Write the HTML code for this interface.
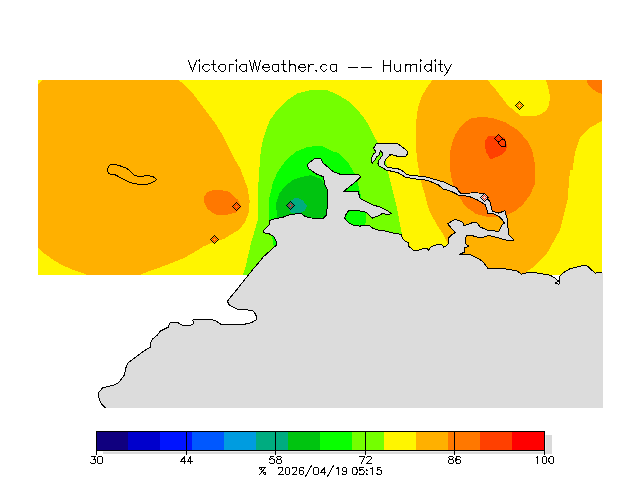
<!DOCTYPE html>
<html><head><meta charset="utf-8"><style>
html,body{margin:0;padding:0;background:#fff;width:640px;height:480px;overflow:hidden}
svg{display:block}
.h{fill:none;stroke:#000;stroke-width:1;stroke-linecap:square}
.t{font-family:"Liberation Sans",sans-serif;font-size:11px;fill:#000}
.title{font-family:"Liberation Sans",sans-serif;font-size:15.5px;fill:#000}
</style></head><body>
<svg width="640" height="480" viewBox="0 0 640 480" shape-rendering="crispEdges">
<defs>
<clipPath id="field"><rect x="38" y="80" width="564" height="195"/></clipPath>
<clipPath id="landclip"><rect x="0" y="0" width="603" height="408"/></clipPath>
<clipPath id="landclip2"><rect x="0" y="0" width="602" height="408"/></clipPath>
</defs>
<rect x="0" y="0" width="640" height="480" fill="#FFFFFF"/>
<g clip-path="url(#field)">
<rect x="38" y="80" width="564" height="195" fill="#FFF500"/>
<polygon points="42,80 178.75,80 185,85.5 192.5,93 200,103 207.5,113 215,123 221.25,133 227.5,145.5 233.75,158 240,168 243.75,178 247.5,188 249.7,201.25 248.75,212.5 245,222 239.4,229.4 230,235 224.4,238.75 215,241.6 203.75,246.25 196.25,251 185,257.5 173.75,262.2 158.75,267.8 147.5,271.6 140,275 87.5,275 82,272.8 72,269.5 62,265 52,259 44.5,253.5 38,247.5 38,84" fill="#FFB000"/>
<polygon points="432.5,80 426.7,88 421.7,96.3 418.3,106.3 416.7,116.3 415.8,128 415.8,141.3 416.7,156.3 418.75,170 422,185 425,195 428,207 431.25,215 437.8,226 443.3,234.7 447.8,243.4 460,275 522.5,275 532.5,267.5 547.5,252.5 560,230 567.5,200 570,170 572.5,170 575,152.5 580,137.5 590,127.5 602,121 602,80" fill="#FFB000"/>
<polygon points="487.5,80 496,90 507.5,105 520,115.5 532.8,116.5 540.2,114.7 545.7,111 548.9,105.5 549.8,99.1 549.4,92.7 547.5,85.3 546.1,80" fill="#FFF500"/>
<polygon points="586.5,80 588,84.5 591,88 596,91.5 602,94 602,80" fill="#FF7800"/>
<polygon points="450.8,175.3 449.7,162 450,152 452.5,142 455.8,133.7 461.7,125.3 470,118.7 480,117 486,117.2 494.7,118.6 505.6,122.5 518,130.3 527.5,141.25 532.2,150.6 534.5,161.6 535.3,172.5 534.5,185 530,195 522,205.5 515,211 505,216 490,217.5 476,214 465,206 458.75,196 453.3,185.3" fill="#FF7800"/>
<polygon points="484.75,141 488.5,136 495,136 505,137.7 506.4,142.7 506.8,147.7 505,151.8 501,155.2 495,157.7 490.6,159.3 488.5,156 486,151.8 484.75,145" fill="#FF4000"/>
<polygon points="260.3,155 261.9,144 265,133.1 269.7,120.6 277.5,109.7 286.9,100.3 297.8,93.3 310.3,90.2 327.5,90.2 335,93.6 341.25,96.75 347.5,100.5 353.75,106 360,113 365,119.25 368.75,125.5 372.5,133 375,138 379,144.4 385.8,160 387.5,170 390,180 393.3,193.3 396.7,206.7 399.2,220 401.7,233.3 405,275 243,275 245.7,266 249,252 251.7,240 255,230 257.7,220 258.5,181.7 260.2,156.7" fill="#74FF00"/>
<polygon points="268.5,220 269.3,198.3 272.7,183.3 277.7,171.7 286,160 296,151.7 306,147.5 316,145.8 322.8,146.4 333.75,151.9 337.5,152.5 348.75,163.75 354.4,173 358,184 360,192 362,200 365,208 366,218 365,228 330,240 290,250 273.75,247 271.2,231" fill="#08FF00"/>
<polygon points="277.7,220 276.8,213.3 276,203.3 279.3,193.3 286,185 294.3,179.2 302.7,176.7 311,175 320.6,178.75 326,186 328,200 328,216 300,222" fill="#00C410"/>
<polygon points="289.3,201.7 296,197.5 302.7,200 306.8,205.8 305,210.8 299.3,213.3 291.8,213.3 288.5,209.2" fill="#00AC80"/>
<polygon points="203.75,197.5 207.5,191.9 215,189.5 228,191.2 237.5,199.4 241.25,206.9 235.6,212.5 224.4,215.3 215,214.4 207.5,208.75 203.75,201.25" fill="#FF7800"/>
<polygon points="38,247.5 44.5,253.5 52,259 62,265 72,269.5 82,272.8 87.5,275 38,275" fill="#FFF500"/>
</g>
<g clip-path="url(#landclip)">
<polygon points="105.6,408 101.25,403.75 98.75,397.5 98.75,392.5 102.5,388 113.75,385 118.75,382.5 124.4,375 126,367.5 128,363 135,357.5 140,354 143.75,351 150,347.5 150,344 152.5,339 157.5,335 160,331.25 165,328.75 168.75,326.9 169.4,323.1 173.1,322.1 177.5,322.5 182.5,325.25 190.6,325.25 193.75,323.75 193.1,321.25 192.25,320.25 195.6,319.4 206.9,319.4 215,320.25 221.25,324.4 243.6,324.5 251.7,322.5 256.8,319.5 255.8,314.4 252.7,310.3 237.5,309.3 229.4,305.2 227.3,301.2 236.5,290 248.4,275 252.8,269.5 258.3,263 263.75,256.4 267.6,253 274.7,246.6 276.9,244.4 276,240.6 273.75,236.7 269,233.6 263.6,232.8 263.6,230.5 269,225 269.8,220.3 275.3,218.75 283,217.2 289.4,214.8 297,213.75 301.9,214 305,216.4 311.25,218 323.3,218.3 326.7,215 327.5,200 327.5,190 325,185 323.3,176.7 316.7,174.2 308.3,168.3 307.5,164.2 315,158.3 320.8,158.3 323.3,163.3 333.3,171.7 340,174.2 359.2,175 360.8,176.7 356.7,180.8 343.3,191.7 358.3,191.7 360,198.3 371.7,204.5 381.25,207.5 387.5,210.6 391.25,213.75 387.5,214.4 382.5,213.5 378.75,215.6 372.5,218.1 370,216.25 366.25,212.5 362.5,211.25 352.5,210.25 348.75,210.6 346.25,213.75 344.75,218.1 347.5,221.9 352.5,225 360,226.25 362.5,225 368.75,225 372.5,228.1 377.5,230 386.25,231.25 393.75,233.1 401.25,234.4 402.5,238.75 405,241.25 408.1,242.5 408.75,246.25 413.75,250.6 417.5,250.6 423.6,248.4 426.9,248.4 428.5,250 431.25,246.75 433.4,245.6 439,244.5 442.2,245 443.8,247.25 446.6,245.6 448.75,242.9 448.2,238.5 451,235.25 455.3,232.5 453.1,230.3 447.6,223.75 451,221.6 455.3,219.4 459.7,221 463,222.7 464,226 470.6,223.2 476,222 478.75,225 480,226.9 488.75,230.6 498.75,231.25 501.25,226.9 502.5,224.4 504.4,223.1 502.5,220 498.75,216.25 493.75,213.75 487.5,213.1 486.9,209.4 485,204.4 477.5,200 468.75,196.25 458.75,195.2 451,191.25 443,189 438.4,185 427.5,180.3 413.4,178.75 405.6,177.2 397.8,172.5 386.6,170.2 381.75,167.5 379,165.8 378,163.4 378.3,161.3 379.7,159.25 381,157.2 382.8,155.1 381.75,151.7 380.4,151 379,154.8 376.9,156.8 374.9,160 372.1,163.4 371.4,160.6 371.8,157.2 373.5,153.75 376.25,152 374.2,149.6 373.5,148.25 374.9,146.2 376.25,143.4 396.9,143.4 400.3,145.5 403.75,148.25 407.2,151 407.5,153.75 405.8,156.2 397.55,156.5 395.5,155.5 390.7,154.4 389.3,154.1 390,155.5 388,156.8 385.9,159.25 384.2,162.3 385.2,165.4 388,167.5 393.4,168.2 398.2,168.9 401,169.9 403.75,172 407.2,174.8 415,175.6 427.5,177.2 440,181 443.75,182 447.5,183.75 451.25,185.6 456.25,187.5 459.4,191.9 461.25,193.75 473.75,192.75 482.75,193.25 484.4,193 486,195 487.75,197 488,199.5 489.8,201 491.25,206.9 492.5,211.25 498.75,213.1 505,210.6 506.25,216.25 508.1,220 507.2,221.25 508.75,235 513.75,240 507.5,240.6 497.5,237.5 488.75,235.6 482.5,237.5 479,237.7 475,236.3 469.5,235.25 466.25,235.8 465.6,238.5 465,243.4 469,246.2 464.7,247.9 464.2,252.2 459.7,254.4 464,255 470,254.4 476.25,257.5 482.5,261.25 488.1,268.75 500,268.1 516.25,270.6 520,273.1 521.25,274.4 525,273.1 533.75,272.5 550,275.2 555,278 558.75,281.25 555.6,283 558.75,284.4 560,282 559.4,276.9 563.75,272.5 570,268.75 577.5,266.9 585,265 587.5,266.25 593.75,271.9 595,273.1 603,272.5 603,408" fill="#DCDCDC"/>
</g>
<polygon points="236.5,203 240,206.5 236.5,210 233,206.5" fill="#FF8000"/><rect x="232" y="206" width="1" height="1" fill="#000"/><rect x="233" y="205" width="1" height="1" fill="#000"/><rect x="233" y="207" width="1" height="1" fill="#000"/><rect x="234" y="204" width="1" height="1" fill="#000"/><rect x="234" y="206" width="1" height="1" fill="#FF2000"/><rect x="234" y="208" width="1" height="1" fill="#000"/><rect x="235" y="203" width="1" height="1" fill="#000"/><rect x="235" y="205" width="1" height="1" fill="#FF2000"/><rect x="235" y="207" width="1" height="1" fill="#FF2000"/><rect x="235" y="209" width="1" height="1" fill="#000"/><rect x="236" y="202" width="1" height="1" fill="#000"/><rect x="236" y="204" width="1" height="1" fill="#FF2000"/><rect x="236" y="208" width="1" height="1" fill="#FF2000"/><rect x="236" y="210" width="1" height="1" fill="#000"/><rect x="237" y="203" width="1" height="1" fill="#000"/><rect x="237" y="205" width="1" height="1" fill="#FF2000"/><rect x="237" y="207" width="1" height="1" fill="#FF2000"/><rect x="237" y="209" width="1" height="1" fill="#000"/><rect x="238" y="204" width="1" height="1" fill="#000"/><rect x="238" y="206" width="1" height="1" fill="#FF2000"/><rect x="238" y="208" width="1" height="1" fill="#000"/><rect x="239" y="205" width="1" height="1" fill="#000"/><rect x="239" y="207" width="1" height="1" fill="#000"/><rect x="240" y="206" width="1" height="1" fill="#000"/>
<polygon points="214.5,236 218,239.5 214.5,243 211,239.5" fill="#FFB000"/><rect x="210" y="239" width="1" height="1" fill="#000"/><rect x="211" y="238" width="1" height="1" fill="#000"/><rect x="211" y="240" width="1" height="1" fill="#000"/><rect x="212" y="237" width="1" height="1" fill="#000"/><rect x="212" y="239" width="1" height="1" fill="#FF2000"/><rect x="212" y="241" width="1" height="1" fill="#000"/><rect x="213" y="236" width="1" height="1" fill="#000"/><rect x="213" y="238" width="1" height="1" fill="#FF2000"/><rect x="213" y="240" width="1" height="1" fill="#FF2000"/><rect x="213" y="242" width="1" height="1" fill="#000"/><rect x="214" y="235" width="1" height="1" fill="#000"/><rect x="214" y="237" width="1" height="1" fill="#FF2000"/><rect x="214" y="241" width="1" height="1" fill="#FF2000"/><rect x="214" y="243" width="1" height="1" fill="#000"/><rect x="215" y="236" width="1" height="1" fill="#000"/><rect x="215" y="238" width="1" height="1" fill="#FF2000"/><rect x="215" y="240" width="1" height="1" fill="#FF2000"/><rect x="215" y="242" width="1" height="1" fill="#000"/><rect x="216" y="237" width="1" height="1" fill="#000"/><rect x="216" y="239" width="1" height="1" fill="#FF2000"/><rect x="216" y="241" width="1" height="1" fill="#000"/><rect x="217" y="238" width="1" height="1" fill="#000"/><rect x="217" y="240" width="1" height="1" fill="#000"/><rect x="218" y="239" width="1" height="1" fill="#000"/>
<polygon points="290.5,202 294,205.5 290.5,209 287,205.5" fill="#00A888"/><rect x="286" y="205" width="1" height="1" fill="#000"/><rect x="287" y="204" width="1" height="1" fill="#000"/><rect x="287" y="206" width="1" height="1" fill="#000"/><rect x="288" y="203" width="1" height="1" fill="#000"/><rect x="288" y="205" width="1" height="1" fill="#FF0000"/><rect x="288" y="207" width="1" height="1" fill="#000"/><rect x="289" y="202" width="1" height="1" fill="#000"/><rect x="289" y="204" width="1" height="1" fill="#FF0000"/><rect x="289" y="206" width="1" height="1" fill="#FF0000"/><rect x="289" y="208" width="1" height="1" fill="#000"/><rect x="290" y="201" width="1" height="1" fill="#000"/><rect x="290" y="203" width="1" height="1" fill="#FF0000"/><rect x="290" y="207" width="1" height="1" fill="#FF0000"/><rect x="290" y="209" width="1" height="1" fill="#000"/><rect x="291" y="202" width="1" height="1" fill="#000"/><rect x="291" y="204" width="1" height="1" fill="#FF0000"/><rect x="291" y="206" width="1" height="1" fill="#FF0000"/><rect x="291" y="208" width="1" height="1" fill="#000"/><rect x="292" y="203" width="1" height="1" fill="#000"/><rect x="292" y="205" width="1" height="1" fill="#FF0000"/><rect x="292" y="207" width="1" height="1" fill="#000"/><rect x="293" y="204" width="1" height="1" fill="#000"/><rect x="293" y="206" width="1" height="1" fill="#000"/><rect x="294" y="205" width="1" height="1" fill="#000"/>
<polygon points="519.5,102 523,105.5 519.5,109 516,105.5" fill="#FFFF00"/><rect x="515" y="105" width="1" height="1" fill="#000"/><rect x="516" y="104" width="1" height="1" fill="#000"/><rect x="516" y="106" width="1" height="1" fill="#000"/><rect x="517" y="103" width="1" height="1" fill="#000"/><rect x="517" y="105" width="1" height="1" fill="#FF2000"/><rect x="517" y="107" width="1" height="1" fill="#000"/><rect x="518" y="102" width="1" height="1" fill="#000"/><rect x="518" y="104" width="1" height="1" fill="#FF2000"/><rect x="518" y="106" width="1" height="1" fill="#FF2000"/><rect x="518" y="108" width="1" height="1" fill="#000"/><rect x="519" y="101" width="1" height="1" fill="#000"/><rect x="519" y="103" width="1" height="1" fill="#FF2000"/><rect x="519" y="107" width="1" height="1" fill="#FF2000"/><rect x="519" y="109" width="1" height="1" fill="#000"/><rect x="520" y="102" width="1" height="1" fill="#000"/><rect x="520" y="104" width="1" height="1" fill="#FF2000"/><rect x="520" y="106" width="1" height="1" fill="#FF2000"/><rect x="520" y="108" width="1" height="1" fill="#000"/><rect x="521" y="103" width="1" height="1" fill="#000"/><rect x="521" y="105" width="1" height="1" fill="#FF2000"/><rect x="521" y="107" width="1" height="1" fill="#000"/><rect x="522" y="104" width="1" height="1" fill="#000"/><rect x="522" y="106" width="1" height="1" fill="#000"/><rect x="523" y="105" width="1" height="1" fill="#000"/>
<polygon points="498.5,135 502,138.5 498.5,142 495,138.5" fill="#FF4000"/><rect x="494" y="138" width="1" height="1" fill="#000"/><rect x="495" y="137" width="1" height="1" fill="#000"/><rect x="495" y="139" width="1" height="1" fill="#000"/><rect x="496" y="136" width="1" height="1" fill="#000"/><rect x="496" y="138" width="1" height="1" fill="#FF2000"/><rect x="496" y="140" width="1" height="1" fill="#000"/><rect x="497" y="135" width="1" height="1" fill="#000"/><rect x="497" y="137" width="1" height="1" fill="#FF2000"/><rect x="497" y="139" width="1" height="1" fill="#FF2000"/><rect x="497" y="141" width="1" height="1" fill="#000"/><rect x="498" y="134" width="1" height="1" fill="#000"/><rect x="498" y="136" width="1" height="1" fill="#FF2000"/><rect x="498" y="140" width="1" height="1" fill="#FF2000"/><rect x="498" y="142" width="1" height="1" fill="#000"/><rect x="499" y="135" width="1" height="1" fill="#000"/><rect x="499" y="137" width="1" height="1" fill="#FF2000"/><rect x="499" y="139" width="1" height="1" fill="#FF2000"/><rect x="499" y="141" width="1" height="1" fill="#000"/><rect x="500" y="136" width="1" height="1" fill="#000"/><rect x="500" y="138" width="1" height="1" fill="#FF2000"/><rect x="500" y="140" width="1" height="1" fill="#000"/><rect x="501" y="137" width="1" height="1" fill="#000"/><rect x="501" y="139" width="1" height="1" fill="#000"/><rect x="502" y="138" width="1" height="1" fill="#000"/>
<polygon points="484.5,194 488,197.5 484.5,201 481,197.5" fill="#DCDCDC"/><rect x="480" y="197" width="1" height="1" fill="#000"/><rect x="481" y="196" width="1" height="1" fill="#000"/><rect x="481" y="198" width="1" height="1" fill="#000"/><rect x="482" y="195" width="1" height="1" fill="#000"/><rect x="482" y="197" width="1" height="1" fill="#FF2000"/><rect x="482" y="199" width="1" height="1" fill="#000"/><rect x="483" y="194" width="1" height="1" fill="#000"/><rect x="483" y="196" width="1" height="1" fill="#FF2000"/><rect x="483" y="198" width="1" height="1" fill="#FF2000"/><rect x="483" y="200" width="1" height="1" fill="#000"/><rect x="484" y="193" width="1" height="1" fill="#000"/><rect x="484" y="195" width="1" height="1" fill="#FF2000"/><rect x="484" y="199" width="1" height="1" fill="#FF2000"/><rect x="484" y="201" width="1" height="1" fill="#000"/><rect x="485" y="194" width="1" height="1" fill="#000"/><rect x="485" y="196" width="1" height="1" fill="#FF2000"/><rect x="485" y="198" width="1" height="1" fill="#FF2000"/><rect x="485" y="200" width="1" height="1" fill="#000"/><rect x="486" y="195" width="1" height="1" fill="#000"/><rect x="486" y="197" width="1" height="1" fill="#FF2000"/><rect x="486" y="199" width="1" height="1" fill="#000"/><rect x="487" y="196" width="1" height="1" fill="#000"/><rect x="487" y="198" width="1" height="1" fill="#000"/><rect x="488" y="197" width="1" height="1" fill="#000"/>
<g clip-path="url(#landclip2)">
<polygon points="105.6,408 101.25,403.75 98.75,397.5 98.75,392.5 102.5,388 113.75,385 118.75,382.5 124.4,375 126,367.5 128,363 135,357.5 140,354 143.75,351 150,347.5 150,344 152.5,339 157.5,335 160,331.25 165,328.75 168.75,326.9 169.4,323.1 173.1,322.1 177.5,322.5 182.5,325.25 190.6,325.25 193.75,323.75 193.1,321.25 192.25,320.25 195.6,319.4 206.9,319.4 215,320.25 221.25,324.4 243.6,324.5 251.7,322.5 256.8,319.5 255.8,314.4 252.7,310.3 237.5,309.3 229.4,305.2 227.3,301.2 236.5,290 248.4,275 252.8,269.5 258.3,263 263.75,256.4 267.6,253 274.7,246.6 276.9,244.4 276,240.6 273.75,236.7 269,233.6 263.6,232.8 263.6,230.5 269,225 269.8,220.3 275.3,218.75 283,217.2 289.4,214.8 297,213.75 301.9,214 305,216.4 311.25,218 323.3,218.3 326.7,215 327.5,200 327.5,190 325,185 323.3,176.7 316.7,174.2 308.3,168.3 307.5,164.2 315,158.3 320.8,158.3 323.3,163.3 333.3,171.7 340,174.2 359.2,175 360.8,176.7 356.7,180.8 343.3,191.7 358.3,191.7 360,198.3 371.7,204.5 381.25,207.5 387.5,210.6 391.25,213.75 387.5,214.4 382.5,213.5 378.75,215.6 372.5,218.1 370,216.25 366.25,212.5 362.5,211.25 352.5,210.25 348.75,210.6 346.25,213.75 344.75,218.1 347.5,221.9 352.5,225 360,226.25 362.5,225 368.75,225 372.5,228.1 377.5,230 386.25,231.25 393.75,233.1 401.25,234.4 402.5,238.75 405,241.25 408.1,242.5 408.75,246.25 413.75,250.6 417.5,250.6 423.6,248.4 426.9,248.4 428.5,250 431.25,246.75 433.4,245.6 439,244.5 442.2,245 443.8,247.25 446.6,245.6 448.75,242.9 448.2,238.5 451,235.25 455.3,232.5 453.1,230.3 447.6,223.75 451,221.6 455.3,219.4 459.7,221 463,222.7 464,226 470.6,223.2 476,222 478.75,225 480,226.9 488.75,230.6 498.75,231.25 501.25,226.9 502.5,224.4 504.4,223.1 502.5,220 498.75,216.25 493.75,213.75 487.5,213.1 486.9,209.4 485,204.4 477.5,200 468.75,196.25 458.75,195.2 451,191.25 443,189 438.4,185 427.5,180.3 413.4,178.75 405.6,177.2 397.8,172.5 386.6,170.2 381.75,167.5 379,165.8 378,163.4 378.3,161.3 379.7,159.25 381,157.2 382.8,155.1 381.75,151.7 380.4,151 379,154.8 376.9,156.8 374.9,160 372.1,163.4 371.4,160.6 371.8,157.2 373.5,153.75 376.25,152 374.2,149.6 373.5,148.25 374.9,146.2 376.25,143.4 396.9,143.4 400.3,145.5 403.75,148.25 407.2,151 407.5,153.75 405.8,156.2 397.55,156.5 395.5,155.5 390.7,154.4 389.3,154.1 390,155.5 388,156.8 385.9,159.25 384.2,162.3 385.2,165.4 388,167.5 393.4,168.2 398.2,168.9 401,169.9 403.75,172 407.2,174.8 415,175.6 427.5,177.2 440,181 443.75,182 447.5,183.75 451.25,185.6 456.25,187.5 459.4,191.9 461.25,193.75 473.75,192.75 482.75,193.25 484.4,193 486,195 487.75,197 488,199.5 489.8,201 491.25,206.9 492.5,211.25 498.75,213.1 505,210.6 506.25,216.25 508.1,220 507.2,221.25 508.75,235 513.75,240 507.5,240.6 497.5,237.5 488.75,235.6 482.5,237.5 479,237.7 475,236.3 469.5,235.25 466.25,235.8 465.6,238.5 465,243.4 469,246.2 464.7,247.9 464.2,252.2 459.7,254.4 464,255 470,254.4 476.25,257.5 482.5,261.25 488.1,268.75 500,268.1 516.25,270.6 520,273.1 521.25,274.4 525,273.1 533.75,272.5 550,275.2 555,278 558.75,281.25 555.6,283 558.75,284.4 560,282 559.4,276.9 563.75,272.5 570,268.75 577.5,266.9 585,265 587.5,266.25 593.75,271.9 595,273.1 603,272.5 603,408" fill="none" stroke="#000" stroke-width="1" stroke-linejoin="round"/>
</g>
<polygon points="110.2,164.6 114.2,164.3 118.3,165.2 126.4,168.2 130.5,171.25 134.5,175.3 137.6,176.3 148.75,175.8 152.8,176.3 156.4,179.4 154.8,181.4 150.8,183 144.7,185 139.6,184.5 131.5,183 125.4,180.4 115.2,174.8 109.1,173.8 107.6,171.25 108.1,167.2" fill="none" stroke="#000" stroke-width="1"/>
<polygon points="498,141.5 499,144 500.5,145.5 502,146.5 505.5,146.5 505.5,141.5 504,139.5 502.5,138.75 501.5,140.5" fill="none" stroke="#000" stroke-width="1"/>
<rect x="103" y="451" width="449" height="1" fill="#EAEAEA"/>
<rect x="545" y="435" width="1" height="17" fill="#EAEAEA"/>
<rect x="103" y="452" width="449" height="2" fill="#DADADA"/>
<rect x="546" y="435" width="6" height="19" fill="#DADADA"/>
<rect x="96" y="431" width="32" height="19" fill="#10007F"/>
<rect x="128" y="431" width="32" height="19" fill="#0000CC"/>
<rect x="160" y="431" width="32" height="19" fill="#0014FF"/>
<rect x="192" y="431" width="32" height="19" fill="#0058FF"/>
<rect x="224" y="431" width="32" height="19" fill="#009CE0"/>
<rect x="256" y="431" width="32" height="19" fill="#00AC80"/>
<rect x="288" y="431" width="32" height="19" fill="#00C410"/>
<rect x="320" y="431" width="32" height="19" fill="#08FF00"/>
<rect x="352" y="431" width="32" height="19" fill="#74FF00"/>
<rect x="384" y="431" width="32" height="19" fill="#FFF500"/>
<rect x="416" y="431" width="32" height="19" fill="#FFB000"/>
<rect x="448" y="431" width="32" height="19" fill="#FF7800"/>
<rect x="480" y="431" width="32" height="19" fill="#FF4000"/>
<rect x="512" y="431" width="32" height="19" fill="#FF0000"/>
<rect x="96.5" y="431.5" width="448" height="19" fill="none" stroke="#000" stroke-width="1"/>
<line x1="96.5" y1="431" x2="96.5" y2="455" stroke="#000" stroke-width="1"/>
<path d="M91.50,456.50 L95.50,456.50 L93.50,459.50 L94.50,459.50 L94.50,459.50 L95.50,459.50 L95.50,460.50 L95.50,461.50 L95.50,462.50 L94.50,463.50 L93.50,463.50 L92.50,463.50 L91.50,463.50 L90.50,462.50 L90.50,462.50 M99.50,456.50 L98.50,456.50 L97.50,457.50 L97.50,459.50 L97.50,460.50 L97.50,462.50 L98.50,463.50 L99.50,463.50 L100.50,463.50 L101.50,463.50 L102.50,462.50 L102.50,460.50 L102.50,459.50 L102.50,457.50 L101.50,456.50 L100.50,456.50 L99.50,456.50" class="h"/>
<line x1="186.5" y1="431" x2="186.5" y2="455" stroke="#000" stroke-width="1"/>
<path d="M184.50,456.50 L180.50,461.50 L185.50,461.50 M184.50,456.50 L184.50,463.50 M190.50,456.50 L187.50,461.50 L192.50,461.50 M190.50,456.50 L190.50,463.50" class="h"/>
<line x1="275.5" y1="431" x2="275.5" y2="455" stroke="#000" stroke-width="1"/>
<path d="M273.50,456.50 L270.50,456.50 L269.50,459.50 L270.50,459.50 L271.50,458.50 L272.50,458.50 L273.50,459.50 L274.50,459.50 L274.50,460.50 L274.50,461.50 L274.50,462.50 L273.50,463.50 L272.50,463.50 L271.50,463.50 L270.50,463.50 L269.50,462.50 L269.50,462.50 M278.50,456.50 L277.50,456.50 L276.50,457.50 L276.50,457.50 L277.50,458.50 L277.50,459.50 L279.50,459.50 L280.50,459.50 L281.50,460.50 L281.50,461.50 L281.50,462.50 L281.50,462.50 L280.50,463.50 L279.50,463.50 L278.50,463.50 L277.50,463.50 L276.50,462.50 L276.50,462.50 L276.50,461.50 L276.50,460.50 L277.50,459.50 L278.50,459.50 L279.50,459.50 L280.50,458.50 L281.50,457.50 L281.50,457.50 L280.50,456.50 L279.50,456.50 L278.50,456.50" class="h"/>
<line x1="365.5" y1="431" x2="365.5" y2="455" stroke="#000" stroke-width="1"/>
<path d="M364.50,456.50 L361.50,463.50 M359.50,456.50 L364.50,456.50 M366.50,457.50 L366.50,457.50 L367.50,456.50 L367.50,456.50 L368.50,456.50 L369.50,456.50 L370.50,456.50 L370.50,456.50 L371.50,457.50 L371.50,458.50 L370.50,459.50 L369.50,460.50 L366.50,463.50 L371.50,463.50" class="h"/>
<line x1="454.5" y1="431" x2="454.5" y2="455" stroke="#000" stroke-width="1"/>
<path d="M450.50,456.50 L449.50,456.50 L448.50,457.50 L448.50,457.50 L449.50,458.50 L450.50,459.50 L451.50,459.50 L452.50,459.50 L453.50,460.50 L453.50,461.50 L453.50,462.50 L453.50,462.50 L452.50,463.50 L451.50,463.50 L450.50,463.50 L449.50,463.50 L448.50,462.50 L448.50,462.50 L448.50,461.50 L448.50,460.50 L449.50,459.50 L450.50,459.50 L452.50,459.50 L452.50,458.50 L453.50,457.50 L453.50,457.50 L452.50,456.50 L451.50,456.50 L450.50,456.50 M460.50,457.50 L459.50,456.50 L458.50,456.50 L457.50,456.50 L456.50,456.50 L456.50,457.50 L455.50,459.50 L455.50,461.50 L456.50,462.50 L456.50,463.50 L457.50,463.50 L458.50,463.50 L459.50,463.50 L460.50,462.50 L460.50,461.50 L460.50,461.50 L460.50,460.50 L459.50,459.50 L458.50,459.50 L457.50,459.50 L456.50,459.50 L456.50,460.50 L455.50,461.50" class="h"/>
<line x1="544.5" y1="431" x2="544.5" y2="455" stroke="#000" stroke-width="1"/>
<path d="M536.50,457.50 L536.50,457.50 L537.50,456.50 L537.50,463.50 M544.50,456.50 L543.50,456.50 L542.50,457.50 L542.50,459.50 L542.50,460.50 L542.50,462.50 L543.50,463.50 L544.50,463.50 L544.50,463.50 L545.50,463.50 L546.50,462.50 L546.50,460.50 L546.50,459.50 L546.50,457.50 L545.50,456.50 L544.50,456.50 L544.50,456.50 M551.50,456.50 L550.50,456.50 L549.50,457.50 L548.50,459.50 L548.50,460.50 L549.50,462.50 L550.50,463.50 L551.50,463.50 L551.50,463.50 L552.50,463.50 L553.50,462.50 L553.50,460.50 L553.50,459.50 L553.50,457.50 L552.50,456.50 L551.50,456.50 L551.50,456.50" class="h"/>
<path d="M265.50,467.50 L259.50,474.50 M261.50,467.50 L261.50,467.50 L261.50,468.50 L261.50,469.50 L260.50,469.50 L260.50,469.50 L259.50,468.50 L259.50,468.50 L259.50,467.50 L260.50,467.50 L261.50,467.50 L261.50,467.50 L262.50,467.50 L264.50,467.50 L265.50,467.50 L265.50,467.50 M264.50,472.50 L263.50,472.50 L263.50,473.50 L263.50,473.50 L264.50,474.50 L264.50,474.50 L265.50,474.50 L265.50,473.50 L265.50,472.50 L265.50,472.50 L264.50,472.50" class="h"/>
<path d="M278.50,468.50 L278.50,468.50 L278.50,467.50 L279.50,467.50 L279.50,467.50 L281.50,467.50 L281.50,467.50 L282.50,467.50 L282.50,468.50 L282.50,469.50 L282.50,470.50 L281.50,471.50 L278.50,474.50 L283.50,474.50 M287.50,467.50 L286.50,467.50 L285.50,468.50 L285.50,470.50 L285.50,471.50 L285.50,473.50 L286.50,474.50 L287.50,474.50 L287.50,474.50 L288.50,474.50 L289.50,473.50 L289.50,471.50 L289.50,470.50 L289.50,468.50 L288.50,467.50 L287.50,467.50 L287.50,467.50 M292.50,468.50 L292.50,468.50 L292.50,467.50 L293.50,467.50 L293.50,467.50 L295.50,467.50 L295.50,467.50 L296.50,467.50 L296.50,468.50 L296.50,469.50 L296.50,470.50 L295.50,471.50 L292.50,474.50 L296.50,474.50 M303.50,468.50 L303.50,467.50 L302.50,467.50 L301.50,467.50 L300.50,467.50 L299.50,468.50 L299.50,470.50 L299.50,472.50 L299.50,473.50 L300.50,474.50 L301.50,474.50 L301.50,474.50 L302.50,474.50 L303.50,473.50 L303.50,472.50 L303.50,472.50 L303.50,471.50 L302.50,470.50 L301.50,470.50 L301.50,470.50 L300.50,470.50 L299.50,471.50 L299.50,472.50 M311.50,465.50 L305.50,476.50 M315.50,467.50 L314.50,467.50 L313.50,468.50 L313.50,470.50 L313.50,471.50 L313.50,473.50 L314.50,474.50 L315.50,474.50 L316.50,474.50 L317.50,474.50 L318.50,473.50 L318.50,471.50 L318.50,470.50 L318.50,468.50 L317.50,467.50 L316.50,467.50 L315.50,467.50 M324.50,467.50 L320.50,472.50 L325.50,472.50 M324.50,467.50 L324.50,474.50 M333.50,465.50 L327.50,476.50 M336.50,468.50 L336.50,468.50 L338.50,467.50 L338.50,474.50 M346.50,469.50 L346.50,470.50 L345.50,471.50 L344.50,471.50 L344.50,471.50 L343.50,471.50 L342.50,470.50 L342.50,469.50 L342.50,469.50 L342.50,468.50 L343.50,467.50 L344.50,467.50 L344.50,467.50 L345.50,467.50 L346.50,468.50 L346.50,469.50 L346.50,471.50 L346.50,473.50 L345.50,474.50 L344.50,474.50 L343.50,474.50 L342.50,474.50 L342.50,473.50" class="h"/>
<path d="M354.50,467.50 L353.50,467.50 L352.50,468.50 L352.50,470.50 L352.50,471.50 L352.50,473.50 L353.50,474.50 L354.50,474.50 L355.50,474.50 L356.50,474.50 L356.50,473.50 L357.50,471.50 L357.50,470.50 L356.50,468.50 L356.50,467.50 L355.50,467.50 L354.50,467.50 M363.50,467.50 L359.50,467.50 L359.50,470.50 L359.50,470.50 L361.50,469.50 L362.50,469.50 L363.50,470.50 L363.50,470.50 L364.50,471.50 L364.50,472.50 L363.50,473.50 L363.50,474.50 L362.50,474.50 L361.50,474.50 L359.50,474.50 L359.50,473.50 L359.50,473.50 M366.50,469.50 L366.50,470.50 L366.50,470.50 L367.50,470.50 L366.50,469.50 M366.50,473.50 L366.50,474.50 L366.50,474.50 L367.50,474.50 L366.50,473.50 M370.50,468.50 L371.50,468.50 L372.50,467.50 L372.50,474.50 M380.50,467.50 L377.50,467.50 L377.50,470.50 L377.50,470.50 L378.50,469.50 L379.50,469.50 L380.50,470.50 L381.50,470.50 L381.50,471.50 L381.50,472.50 L381.50,473.50 L380.50,474.50 L379.50,474.50 L378.50,474.50 L377.50,474.50 L377.50,473.50 L376.50,473.50" class="h"/>
<path d="M188.50,60.50 L192.50,71.50 M196.50,60.50 L192.50,71.50 M198.50,60.50 L199.50,61.50 L199.50,60.50 L199.50,59.50 L198.50,60.50 M199.50,64.50 L199.50,71.50 M209.50,65.50 L208.50,64.50 L207.50,64.50 L205.50,64.50 L204.50,64.50 L203.50,65.50 L202.50,67.50 L202.50,68.50 L203.50,69.50 L204.50,70.50 L205.50,71.50 L207.50,71.50 L208.50,70.50 L209.50,69.50 M213.50,60.50 L213.50,69.50 L214.50,70.50 L215.50,71.50 L216.50,71.50 M211.50,64.50 L215.50,64.50 M221.50,64.50 L220.50,64.50 L219.50,65.50 L218.50,67.50 L218.50,68.50 L219.50,69.50 L220.50,70.50 L221.50,71.50 L223.50,71.50 L224.50,70.50 L225.50,69.50 L225.50,68.50 L225.50,67.50 L225.50,65.50 L224.50,64.50 L223.50,64.50 L221.50,64.50 M229.50,64.50 L229.50,71.50 M229.50,67.50 L229.50,65.50 L230.50,64.50 L232.50,64.50 L233.50,64.50 M235.50,60.50 L236.50,61.50 L236.50,60.50 L236.50,59.50 L235.50,60.50 M236.50,64.50 L236.50,71.50 M246.50,64.50 L246.50,71.50 M246.50,65.50 L245.50,64.50 L244.50,64.50 L242.50,64.50 L241.50,64.50 L240.50,65.50 L239.50,67.50 L239.50,68.50 L240.50,69.50 L241.50,70.50 L242.50,71.50 L244.50,71.50 L245.50,70.50 L246.50,69.50 M249.50,60.50 L252.50,71.50 M254.50,60.50 L252.50,71.50 M254.50,60.50 L257.50,71.50 M260.50,60.50 L257.50,71.50 M262.50,67.50 L269.50,67.50 L269.50,66.50 L268.50,65.50 L268.50,64.50 L267.50,64.50 L265.50,64.50 L264.50,64.50 L263.50,65.50 L262.50,67.50 L262.50,68.50 L263.50,69.50 L264.50,70.50 L265.50,71.50 L267.50,71.50 L268.50,70.50 L269.50,69.50 M278.50,64.50 L278.50,71.50 M278.50,65.50 L277.50,64.50 L276.50,64.50 L274.50,64.50 L273.50,64.50 L272.50,65.50 L272.50,67.50 L272.50,68.50 L272.50,69.50 L273.50,70.50 L274.50,71.50 L276.50,71.50 L277.50,70.50 L278.50,69.50 M283.50,60.50 L283.50,69.50 L283.50,70.50 L285.50,71.50 L286.50,71.50 M281.50,64.50 L285.50,64.50 M289.50,60.50 L289.50,71.50 M289.50,66.50 L290.50,64.50 L291.50,64.50 L293.50,64.50 L294.50,64.50 L295.50,66.50 L295.50,71.50 M298.50,67.50 L305.50,67.50 L305.50,66.50 L304.50,65.50 L304.50,64.50 L303.50,64.50 L301.50,64.50 L300.50,64.50 L299.50,65.50 L298.50,67.50 L298.50,68.50 L299.50,69.50 L300.50,70.50 L301.50,71.50 L303.50,71.50 L304.50,70.50 L305.50,69.50 M308.50,64.50 L308.50,71.50 M308.50,67.50 L309.50,65.50 L310.50,64.50 L311.50,64.50 L313.50,64.50 M316.50,70.50 L315.50,70.50 L316.50,71.50 L316.50,70.50 L316.50,70.50 M326.50,65.50 L325.50,64.50 L324.50,64.50 L323.50,64.50 L322.50,64.50 L321.50,65.50 L320.50,67.50 L320.50,68.50 L321.50,69.50 L322.50,70.50 L323.50,71.50 L324.50,71.50 L325.50,70.50 L326.50,69.50 M336.50,64.50 L336.50,71.50 M336.50,65.50 L335.50,64.50 L334.50,64.50 L332.50,64.50 L331.50,64.50 L330.50,65.50 L330.50,67.50 L330.50,68.50 L330.50,69.50 L331.50,70.50 L332.50,71.50 L334.50,71.50 L335.50,70.50 L336.50,69.50" class="h"/>
<rect x="348" y="67" width="10" height="1" fill="#000"/>
<rect x="361" y="67" width="11" height="1" fill="#000"/>
<path d="M383.50,60.50 L383.50,71.50 M390.50,60.50 L390.50,71.50 M383.50,65.50 L390.50,65.50 M394.50,64.50 L394.50,69.50 L395.50,70.50 L396.50,71.50 L398.50,71.50 L399.50,70.50 L400.50,69.50 M400.50,64.50 L400.50,71.50 M405.50,64.50 L405.50,71.50 M405.50,66.50 L406.50,64.50 L407.50,64.50 L409.50,64.50 L410.50,64.50 L410.50,66.50 L410.50,71.50 M410.50,66.50 L412.50,64.50 L413.50,64.50 L415.50,64.50 L416.50,64.50 L416.50,66.50 L416.50,71.50 M420.50,60.50 L420.50,61.50 L421.50,60.50 L420.50,59.50 L420.50,60.50 M420.50,64.50 L420.50,71.50 M431.50,60.50 L431.50,71.50 M431.50,65.50 L429.50,64.50 L428.50,64.50 L427.50,64.50 L426.50,64.50 L425.50,65.50 L424.50,67.50 L424.50,68.50 L425.50,69.50 L426.50,70.50 L427.50,71.50 L428.50,71.50 L429.50,70.50 L431.50,69.50 M434.50,60.50 L435.50,61.50 L435.50,60.50 L435.50,59.50 L434.50,60.50 M435.50,64.50 L435.50,71.50 M440.50,60.50 L440.50,69.50 L440.50,70.50 L441.50,71.50 L442.50,71.50 M438.50,64.50 L442.50,64.50 M444.50,64.50 L447.50,71.50 M451.50,64.50 L447.50,71.50 L446.50,73.50 L445.50,74.50 L444.50,75.50 L444.50,75.50" class="h"/>
</svg>
</body></html>
